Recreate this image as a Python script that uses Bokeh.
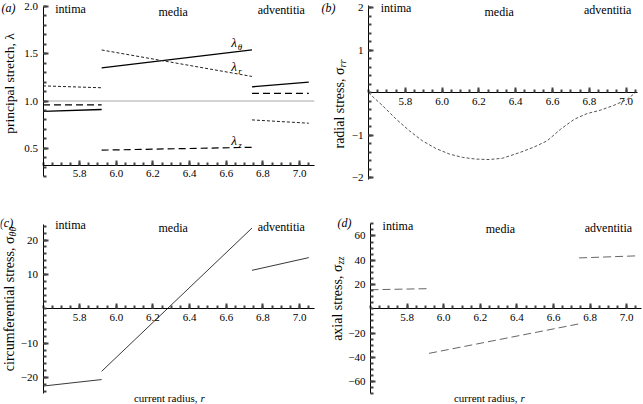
import numpy as np
from bokeh.plotting import figure
from bokeh.models import Range1d, FixedTicker, CustomJSTickFormatter, Label
from bokeh.layouts import gridplot
from bokeh.embed import file_html
from bokeh.resources import INLINE
from bokeh.core.properties import value

FONT = "Liberation Serif"

# ---------------- data ----------------
layer_bounds = [5.60, 5.92, 6.74, 7.05]          # intima | media | adventitia (current radius r)
layer_names = ["intima", "media", "adventitia"]
layer_name_r = [5.75, 6.31, 6.90]

x_tick_values = [5.8, 6.0, 6.2, 6.4, 6.6, 6.8, 7.0]

# (a) principal stretches at start / end of each layer
lam_theta = [[0.89, 0.91], [1.35, 1.54], [1.15, 1.20]]
lam_r = [[1.16, 1.14], [1.54, 1.26], [0.80, 0.765]]
lam_z = [[0.96, 0.96], [0.48, 0.51], [1.08, 1.08]]
lam_ref = 1.0
lam_names = ["θ", "r", "z"]
lam_label_r = [6.642, 6.642, 6.642]
lam_label_y = [1.619, 1.365, 0.582]

# (b) radial stress
sig_rr_r = [5.600, 5.676, 5.748, 5.821, 5.893, 5.966, 6.039, 6.111, 6.183, 6.256, 6.328,
            6.426, 6.498, 6.571, 6.643, 6.716, 6.740, 6.787, 6.859, 6.931, 7.004, 7.050]
sig_rr = [0.00, -0.30, -0.61, -0.89, -1.13, -1.31, -1.44, -1.52, -1.56, -1.57, -1.54,
          -1.40, -1.28, -1.13, -0.86, -0.63, -0.58, -0.49, -0.41, -0.30, -0.16, 0.00]

# (c) circumferential stress, (d) axial stress at start / end of each layer
sig_tt = [[-22.5, -20.6], [-18.2, 23.5], [11.2, 14.9]]
sig_zz = [[15.7, 16.6], [-36.7, -12.4], [41.9, 43.6]]

a_yticks = [0.5, 1.0, 1.5, 2.0]
b_yticks = [-2, -1, 1, 2]
c_yticks = [-20, -10, 10, 20]
d_yticks = [-60, -40, -20, 20, 40, 60]

R_IN = layer_bounds[0]
seg_x = [[layer_bounds[i], layer_bounds[i + 1]] for i in range(3)]

# ---------------- layout (page pixels) ----------------
GEO = {
    "a": dict(left=0, top=0, w=320, h=200, x0px=42.5, sx=183.3, y0=1.0, y0px=100.5, sy=94.5),
    "b": dict(left=320, top=0, w=323, h=200, x0px=368.0, sx=184.0, y0=0.0, y0px=92.3, sy=42.5),
    "c": dict(left=0, top=200, w=320, h=204, x0px=42.5, sx=183.3, y0=0.0, y0px=308.3, sy=3.435),
    "d": dict(left=320, top=200, w=323, h=204, x0px=370.0, sx=183.0, y0=0.0, y0px=308.3, sy=1.214),
}


def px_x(g, page_x):
    return R_IN + (page_x - g["x0px"]) / g["sx"]


def px_y(g, page_y):
    return g["y0"] + (g["y0px"] - page_y) / g["sy"]


def minor_list(lo, hi, step):
    start = np.ceil(lo / step - 1e-9) * step
    return [float(round(v, 6)) for v in np.arange(start, hi + 1e-9, step)]


def make_panel(key, x_axis_at, x_end, ybounds, yticks, ystep, yfmt):
    g = GEO[key]
    xr = (px_x(g, g["left"]), px_x(g, g["left"] + g["w"]))
    yr = (px_y(g, g["top"] + g["h"]), px_y(g, g["top"]))
    p = figure(width=g["w"], height=g["h"], x_range=Range1d(*xr), y_range=Range1d(*yr),
               title=None, output_backend="svg", toolbar_location=None, min_border=0,
               min_border_left=0, min_border_right=0, min_border_top=0, min_border_bottom=0)
    p.xgrid.visible = False
    p.ygrid.visible = False
    p.outline_line_color = None
    p.background_fill_color = "white"
    p.border_fill_color = "white"
    xa = p.xaxis[0]
    ya = p.yaxis[0]
    xa.fixed_location = x_axis_at
    xa.bounds = (R_IN, x_end)
    ya.fixed_location = R_IN
    ya.bounds = ybounds
    xa.ticker = FixedTicker(ticks=x_tick_values, minor_ticks=minor_list(R_IN, x_end, 0.05))
    xa.formatter = CustomJSTickFormatter(code="return tick.toFixed(1);")
    ya.ticker = FixedTicker(ticks=yticks, minor_ticks=minor_list(ybounds[0], ybounds[1], ystep))
    ya.formatter = CustomJSTickFormatter(code=yfmt)
    for ax in (xa, ya):
        ax.axis_line_color = "black"
        ax.axis_line_width = 1
        ax.major_tick_in = 5
        ax.major_tick_out = 0
        ax.minor_tick_in = 3
        ax.minor_tick_out = 0
        ax.major_tick_line_color = "#444444"
        ax.minor_tick_line_color = "#444444"
        ax.major_tick_line_width = 2
        ax.minor_tick_line_width = 2
        ax.major_label_text_font = FONT
        ax.major_label_text_font_size = "11px"
        ax.major_label_text_color = "black"
    xa.major_label_standoff = 5
    ya.major_label_standoff = 5
    return p, g


def label(p, x, y, text, size, style="normal", align="center", angle=0.0, x_offset=0):
    p.add_layout(Label(x=x, y=y, text=text, text_font=FONT, text_font_size=size,
                       text_font_style=style, text_align=align, text_baseline="middle",
                       text_color="black", angle=angle, x_offset=x_offset))


def decorate(p, g, letter, letter_px, region_py, ylab, ysub, ylab_px, ylab_py):
    label(p, px_x(g, letter_px[0]), px_y(g, letter_px[1]), letter, "12px", style="italic")
    for name, rx, py in zip(layer_names, layer_name_r, region_py):
        label(p, rx, px_y(g, py), name, "12px")
    if ysub is None:
        label(p, px_x(g, ylab_px), px_y(g, ylab_py), ylab, "13.5px", angle=np.pi / 2)
    else:
        label(p, px_x(g, ylab_px), px_y(g, ylab_py), ylab, "14px", align="right", angle=np.pi / 2)
        label(p, px_x(g, ylab_px), px_y(g, ylab_py), ysub, "10px", style="italic",
              align="left", angle=np.pi / 2, x_offset=3)


def xlabel(p, g, end_px, py):
    label(p, px_x(g, end_px), px_y(g, py), "current radius,", "11px", align="right")
    label(p, px_x(g, end_px + 3), px_y(g, py), "r", "11px", style="italic", align="left")


FMT1 = "return tick.toFixed(1);"
FMT0 = "return (tick < 0 ? '\u2212' : '') + Math.abs(tick).toFixed(0);"

# ---------------- (a) ----------------
A_X_END = 7.08
pa, ga = make_panel("a", 0.32, A_X_END, (0.2, 2.0), a_yticks, 0.1, FMT1)
pa.line(x=[R_IN, A_X_END], y=[lam_ref, lam_ref], line_color="#a8a8a8", line_width=1)
pa.multi_line(xs=seg_x, ys=lam_theta, line_color="black", line_width=1.3)
pa.multi_line(xs=seg_x, ys=lam_r, line_color="#222222", line_width=1, line_dash="3 2")
pa.multi_line(xs=seg_x, ys=lam_z, line_color="black", line_width=1.2, line_dash="7 4")
pa.text(x=lam_label_r, y=lam_label_y, text=["λ"] * 3, text_font=value(FONT),
        text_font_size=value("13px"), text_font_style="italic", text_align="center",
        text_baseline="middle", text_color="black")
pa.text(x=lam_label_r, y=lam_label_y, text=lam_names, text_font=value(FONT),
        text_font_size=value("9px"), text_font_style="italic", text_align="center",
        text_baseline="middle", text_color="black", x_offset=6, y_offset=4)
decorate(pa, ga, "(a)", (8, 7.5), (8, 11, 9), "principal stretch, λ", None, 9, 83)

# ---------------- (b) ----------------
pb, gb = make_panel("b", 0, 7.06, (-2.05, 2.05), b_yticks, 0.2, FMT0)
pb.line(x=sig_rr_r, y=sig_rr, line_color="#555555", line_width=1, line_dash="3 2")
decorate(pb, gb, "(b)", (328, 7.5), (7.5, 11, 9), "radial stress, σ", "rr", 339, 67)

# ---------------- (c) ----------------
pc, gc = make_panel("c", 0, 7.08, (-24.7, 24.5), c_yticks, 2, FMT0)
pc.multi_line(xs=seg_x, ys=sig_tt, line_color="#222222", line_width=0.9)
decorate(pc, gc, "(c)", (6, 222), (224, 227, 226), "circumferential stress, σ", "θθ", 9, 236)
xlabel(pc, gc, 197, 397)

# ---------------- (d) ----------------
pd_, gd = make_panel("d", 0, 7.08, (-70, 70), d_yticks, 5, FMT0)
pd_.multi_line(xs=seg_x, ys=sig_zz, line_color="#666666", line_width=1, line_dash="8 4")
decorate(pd_, gd, "(d)", (344, 222), (225, 228, 227), "axial stress, σ", "zz", 337, 264)
xlabel(pd_, gd, 517, 397)

grid = gridplot([[pa, pb], [pc, pd_]], toolbar_location=None)

with open("out.html", "w", encoding="utf-8") as f:
    f.write(file_html(grid, INLINE))
